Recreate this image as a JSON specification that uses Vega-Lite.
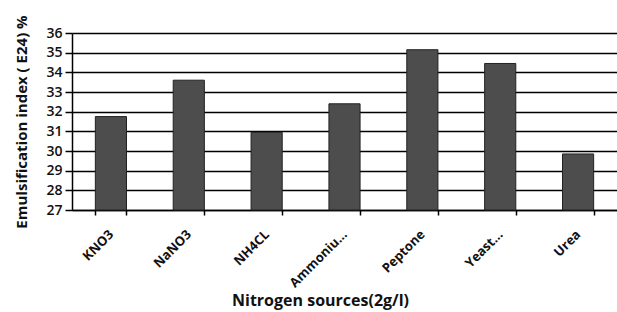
{
  "$schema": "https://vega.github.io/schema/vega-lite/v6.json",
  "width": 545,
  "height": 177,
  "autosize": {"type": "none"},
  "padding": {"left": 72, "top": 33, "right": 0, "bottom": 102},
  "background": "white",
  "config": {
    "view": {"stroke": null},
    "font": "Open Sans"
  },
  "data": {
    "values": [
      {"source": "KNO3", "e24": 31.75},
      {"source": "NaNO3", "e24": 33.6},
      {"source": "NH4CL", "e24": 30.95},
      {"source": "Ammoniu...", "e24": 32.4},
      {"source": "Peptone", "e24": 35.15},
      {"source": "Yeast...", "e24": 34.45},
      {"source": "Urea", "e24": 29.85}
    ]
  },
  "mark": {"type": "bar", "fill": "#4d4d4d", "stroke": "#222", "strokeWidth": 1},
  "encoding": {
    "x": {
      "field": "source",
      "type": "nominal",
      "sort": null,
      "scale": {"paddingInner": 0.6, "paddingOuter": 0.3},
      "axis": {
        "title": "Nitrogen sources(2g/l)",
        "titleFont": "Open Sans",
        "titleFontSize": 16,
        "titleFontWeight": "bold",
        "titleColor": "#111",
        "titleX": 248,
        "titleY": 90,
        "titleBaseline": "middle",
        "labelAngle": -45,
        "labelAlign": "right",
        "labelBaseline": "middle",
        "labelFont": "Open Sans",
        "labelFontSize": 13,
        "labelFontWeight": "bold",
        "labelColor": "#111",
        "labelPadding": 17,
        "tickBand": "extent",
        "tickColor": "black",
        "tickSize": 5,
        "tickWidth": 1.5,
        "domainColor": "black",
        "domainWidth": 1.5
      }
    },
    "y": {
      "field": "e24",
      "type": "quantitative",
      "scale": {"domain": [27, 36], "nice": false, "zero": false},
      "axis": {
        "title": "Emulsification index ( E24) %",
        "titleFont": "Open Sans",
        "titleFontSize": 15,
        "titleFontWeight": "bold",
        "titleColor": "#111",
        "titleX": -51,
        "titleBaseline": "middle",
        "values": [27, 28, 29, 30, 31, 32, 33, 34, 35, 36],
        "labelFont": "Open Sans",
        "labelFontSize": 14,
        "labelFontWeight": 600,
        "labelColor": "#111",
        "labelPadding": 3,
        "grid": true,
        "gridColor": "black",
        "gridWidth": 1.5,
        "tickColor": "black",
        "tickSize": 7,
        "tickWidth": 1.5,
        "domainColor": "black",
        "domainWidth": 1.5
      }
    },
    "y2": {"datum": 27}
  }
}
